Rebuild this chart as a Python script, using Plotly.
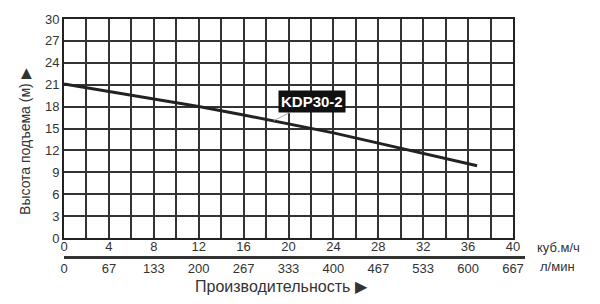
import plotly.graph_objects as go

# Data
flow_m3h = [0, 4, 8, 12, 16, 20, 24, 28, 32, 36, 36.8]
head_m = [21.1, 20.1, 19.05, 18.0, 16.85, 15.65, 14.4, 13.0, 11.6, 10.15, 9.9]

x_ticks = [0, 4, 8, 12, 16, 20, 24, 28, 32, 36, 40]
x_tick_labels = ["0", "4", "8", "12", "16", "20", "24", "28", "32", "36", "40"]
lmin_labels = ["0", "67", "133", "200", "267", "333", "400", "467", "533", "600", "667"]
y_ticks = [0, 3, 6, 9, 12, 15, 18, 21, 24, 27, 30]

series_name = "KDP30-2"
FONT = "Arial, Liberation Sans, sans-serif"
TXT = "#333333"

fig = go.Figure()
fig.add_trace(go.Scatter(x=flow_m3h, y=head_m, mode="lines",
                         line=dict(color="#222222", width=3), showlegend=False,
                         hoverinfo="skip"))
# invisible trace on xaxis2/yaxis2 so the second flow axis is drawn
fig.add_trace(go.Scatter(x=[0], y=[0], xaxis="x2", yaxis="y2", mode="markers",
                         marker=dict(opacity=0), showlegend=False, hoverinfo="skip"))

W, H = 600, 304
ml, mr, mt, mb = 64, 75, 15, 48
pw = W - ml - mr
ph = H - mt - mb
plot_right = 513
plot_bottom = 237.7
x_dom_end = (plot_right - ml) / pw
y_dom_start = (H - mb - plot_bottom) / ph
x2_range_end = 40 / x_dom_end

fig.update_layout(
    width=W, height=H,
    margin=dict(l=ml, r=mr, t=mt, b=mb),
    paper_bgcolor="white", plot_bgcolor="rgba(0,0,0,0)",
    font=dict(family=FONT, size=13, color=TXT),
    xaxis=dict(domain=[0, x_dom_end], range=[0, 40], tickvals=x_ticks,
               ticktext=x_tick_labels, showgrid=True, gridcolor="#333333",
               gridwidth=1.5, showline=True, linecolor="#222222", linewidth=2,
               mirror=True, zeroline=False, ticks="", anchor="y",
               ticklabelstandoff=-5,
               tickfont=dict(size=13, color=TXT),
               minor=dict(tickvals=list(range(2, 40, 4)), showgrid=True,
                          gridcolor="#333333", gridwidth=1.5, ticks="")),
    xaxis2=dict(domain=[0, 1], range=[0, x2_range_end], tickvals=x_ticks,
                ticktext=lmin_labels, showgrid=False, showline=True,
                linecolor="#333333", linewidth=3, zeroline=False, ticks="",
                anchor="y2", ticklabelstandoff=-2,
                tickfont=dict(size=13, color=TXT)),
    yaxis2=dict(domain=[0, 0.01], visible=False, showgrid=False, anchor="x2",
                range=[0, 1]),
    yaxis=dict(domain=[y_dom_start, 1], range=[0, 30], tickvals=y_ticks,
               showgrid=True, gridcolor="#333333", gridwidth=1.5,
               showline=True, linecolor="#222222", linewidth=2, mirror=True,
               zeroline=False, ticks="", tickfont=dict(size=13, color=TXT)),
)

fig.add_annotation(x=18.7, y=16.1, xref="x", yref="y", text="<b>" + series_name + "</b>",
                   showarrow=True, arrowhead=0, arrowwidth=1, arrowcolor="#aaaaaa",
                   ax=38, ay=-19, bgcolor="#111111", borderpad=2,
                   font=dict(family=FONT, size=15, color="white"))

fig.add_annotation(x=535, y=H - 247, xref="paper", yref="paper", text="куб.м/ч",
                   showarrow=False, xanchor="left", yanchor="middle",
                   font=dict(size=13, color=TXT))
fig.add_annotation(x=538, y=H - 267, xref="paper", yref="paper", text="л/мин",
                   showarrow=False, xanchor="left", yanchor="middle",
                   font=dict(size=13, color=TXT))

# convert pixel positions for annotations into paper coords
for a in fig.layout.annotations[1:]:
    a.x = (a.x - ml) / pw
    a.y = (a.y - mb) / ph

fig.add_annotation(x=(281 - ml) / pw, y=(H - 287 - mb) / ph, xref="paper", yref="paper",
                   text="Производительность ▶", showarrow=False,
                   xanchor="center", yanchor="middle", font=dict(size=16, color=TXT))
fig.add_annotation(x=(25 - ml) / pw, y=(H - 140 - mb) / ph, xref="paper", yref="paper",
                   text="Высота подъема (м) ▶", showarrow=False, textangle=-90,
                   xanchor="center", yanchor="middle", font=dict(size=14, color=TXT))

fig.write_html("out.html")
